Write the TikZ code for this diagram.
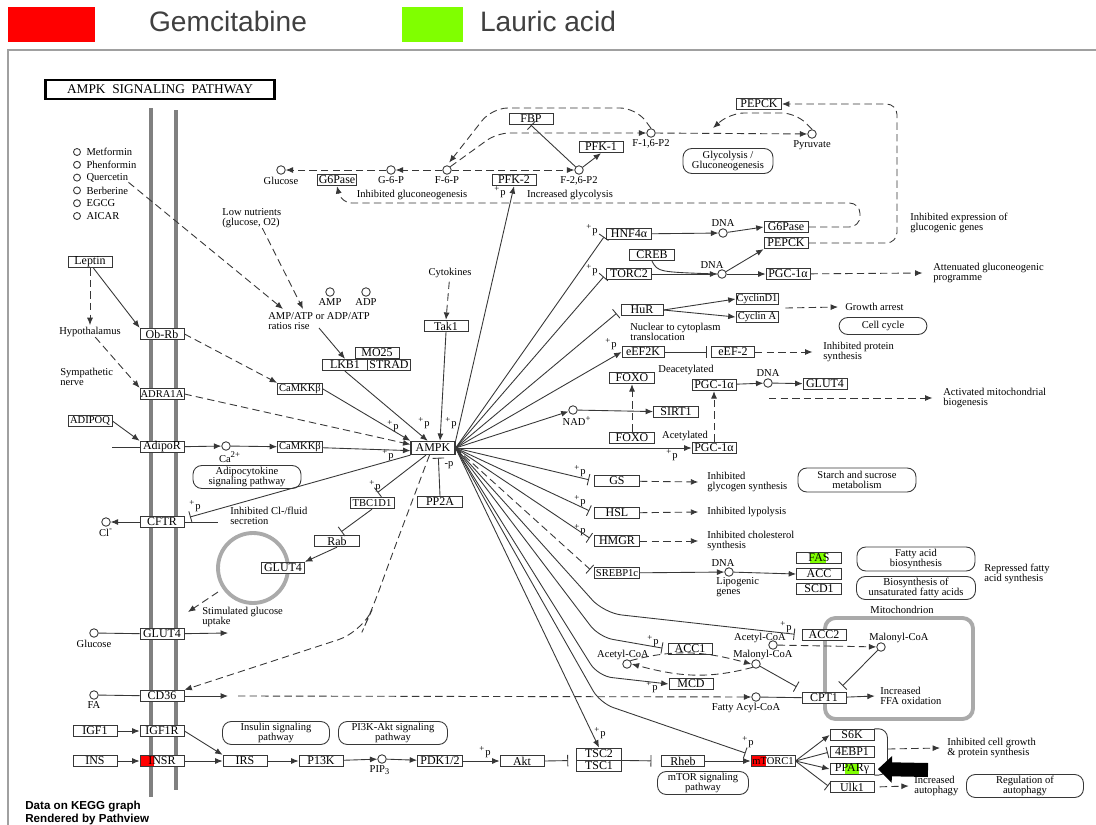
\documentclass[tikz,border=0pt]{standalone}
\usepackage{fontspec}
\setmainfont{Liberation Serif}
\newfontfamily\keggfont{Liberation Serif}
\newfontfamily\hdrfont{Liberation Sans}
\usetikzlibrary{arrows.meta, positioning, calc}
\definecolor{gemred}{RGB}{255,0,0}
\definecolor{laugreen}{RGB}{128,255,0}
\definecolor{hdrgray}{RGB}{64,64,64}
\definecolor{framegray}{RGB}{160,160,160}
\definecolor{memgray}{RGB}{128,128,128}
\definecolor{vesgray}{RGB}{170,170,170}
\definecolor{keggline}{RGB}{55,55,55}
\newcommand{\genefont}{\keggfont\fontsize{6.8}{7.4}\selectfont}
\newcommand{\genefontsm}{\keggfont\fontsize{6}{6.8}\selectfont}
\newcommand{\lblfont}{\keggfont\fontsize{6}{5.9}\selectfont}

\begin{document}
\begin{tikzpicture}[
    x=0.02cm, y=-0.02cm,
    gene/.style={rectangle, draw=keggline, fill=white, line width=0.5pt, minimum width=0.88cm, minimum height=0.23cm, inner sep=0pt, font=\genefont},
    genesm/.style={gene, font=\genefontsm},
    cpd/.style={circle, draw=keggline, fill=white, line width=0.5pt, minimum size=0.17cm, inner sep=0pt},
    txt/.style={font=\lblfont, inner sep=0pt, align=left},
    pway/.style={rectangle, rounded corners=5pt, draw=keggline, line width=0.5pt, font=\lblfont, align=center, inner sep=0pt, minimum height=0.46cm},
    plusp/.style={font=\lblfont, inner sep=0pt},
    line/.style={draw=keggline, line width=0.5pt},
    act/.style={line, -{Latex[length=4.2pt,width=3.4pt]}},
    inh/.style={line, -{Bar[width=6.5pt]}},
    dsh/.style={dash pattern=on 4.2pt off 2.4pt},
    hl/.style n args={3}{path picture={\fill[#1] ([xshift=#2]path picture bounding box.south west) rectangle ([xshift=#3]path picture bounding box.north west);}}
]
\fill[white] (0,0) rectangle (1096,825);
\useasboundingbox (0,0) rectangle (1096,825);

% legend
\node[fill=gemred, minimum width=1.74cm, minimum height=0.7cm, inner sep=0pt] (gemkey) at (51.5,24.5) {};
\node[font=\hdrfont\fontsize{16}{18}\selectfont, text=hdrgray, inner sep=0pt] (gemlab) at (228,21) {Gemcitabine};
\node[fill=laugreen, minimum width=1.22cm, minimum height=0.7cm, inner sep=0pt] (laukey) at (432.5,24.5) {};
\node[font=\hdrfont\fontsize{16}{18}\selectfont, text=hdrgray, inner sep=0pt] (laulab) at (548,21) {Lauric acid};
\draw[framegray, line width=1.2pt] (8,825) -- (8,50) -- (1096,50);

% title and membrane
\node[draw=black, line width=1.2pt, minimum width=4.58cm, minimum height=0.38cm, inner sep=0pt, font=\keggfont\fontsize{7.6}{8}\selectfont] (title) at (160,89.5) {AMPK\ \ SIGNALING\ \ PATHWAY};
\draw[memgray, line width=2.3pt] (151,108) -- (151,797);
\draw[memgray, line width=2.3pt] (176,110) -- (176,790);
\draw[vesgray, line width=2.2pt] (253,568) circle [radius=0.7cm];
\draw[vesgray, line width=2.2pt, rounded corners=6pt] (825,618) rectangle (973,719);

% drugs
\foreach \drug [count=\i] in {Metformin, Phenformin, Quercetin, Berberine, EGCG, AICAR} {
  \node[cpd, minimum size=0.14cm] (drug\i) at (77,139.2+12.8*\i) {};
  \node[txt, right=3pt of drug\i] (dtxt\i) {\drug};
}

% compounds
\node[cpd] (glucA) at (281,170) {};
\node[cpd] (g6p) at (391,170) {};
\node[cpd] (f6p) at (447,170) {};
\node[cpd] (f26p2) at (579,170) {};
\node[cpd] (f16p2) at (651,133) {};
\node[cpd] (pyr) at (812,134) {};
\node[cpd] (dnaA) at (723,233) {};
\node[cpd] (dnaB) at (722,274) {};
\node[cpd] (dnaC) at (768,383) {};
\node[cpd] (nad) at (573,410) {};
\node[cpd] (amp) at (330,292) {};
\node[cpd] (adp) at (366,292) {};
\node[cpd] (ca) at (226,446) {};
\node[cpd] (cl) at (106,522) {};
\node[cpd] (glucB) at (94,633) {};
\node[cpd] (fa) at (94,695) {};
\node[cpd] (pip) at (382,759) {};
\node[cpd] (dnaD) at (729,572) {};
\node[cpd] (acoaA) at (627,664) {};
\node[cpd] (mcoaA) at (756,664) {};
\node[cpd] (acoaB) at (773,645) {};
\node[cpd] (mcoaB) at (881,647) {};
\node[cpd] (facoa) at (756,697) {};

% genes
\node[gene, minimum width=0.78cm] (g6paseA) at (337,180) {G6Pase};
\node[gene] (fbp) at (531,119) {FBP};
\node[gene] (pfkone) at (601,147) {PFK-1};
\node[gene] (pfktwo) at (514,180) {PFK-2};
\node[gene, minimum width=0.9cm] (pepckA) at (759,104) {PEPCK};
\node[gene] (g6paseB) at (786,227) {G6Pase};
\node[gene] (pepckB) at (786,243) {PEPCK};
\node[gene, minimum width=0.9cm] (hnf) at (629,234) {HNF4α};
\node[gene, minimum width=0.9cm] (creb) at (652,255) {CREB};
\node[gene, minimum width=0.9cm] (torc) at (629,274) {TORC2};
\node[gene] (pgcA) at (788,274) {PGC-1α};
\node[gene, minimum width=0.84cm] (hur) at (642,310) {HuR};
\node[genesm, minimum width=0.84cm] (ccnd) at (757,299) {CyclinD1};
\node[genesm, minimum width=0.84cm] (ccna) at (757,317) {Cyclin A};
\node[gene, minimum width=0.84cm] (eefk) at (643,352) {eEF2K};
\node[gene, minimum width=0.86cm] (eeft) at (733,352) {eEF-2};
\node[gene, minimum width=0.9cm] (foxoA) at (632,378) {FOXO};
\node[gene] (pgcB) at (714,385) {PGC-1α};
\node[gene] (glutR) at (825,384) {GLUT4};
\node[gene, minimum width=0.9cm] (sirt) at (676,412) {SIRT1};
\node[gene, minimum width=0.9cm] (foxoB) at (632,438) {FOXO};
\node[gene] (pgcC) at (714,448) {PGC-1α};
\node[gene, minimum height=0.26cm, line width=0.7pt] (ampk) at (433,448) {AMPK};
\node[gene] (tak) at (446,326) {Tak1};
\node[gene] (mo) at (377,353) {MO25};
\node[gene, minimum width=0.9cm] (lkb) at (345,365) {LKB1};
\node[gene, minimum width=0.86cm] (strad) at (389,365) {STRAD};
\node[gene] (leptin) at (90,262) {Leptin};
\node[gene] (obrb) at (162,334) {Ob-Rb};
\node[genesm] (adra) at (162,394) {ADRA1A};
\node[genesm, minimum width=0.9cm] (camkA) at (300,389) {CaMKKβ};
\node[genesm] (adipoq) at (90,421) {ADIPOQ};
\node[gene] (adipor) at (162,447) {AdipoR};
\node[genesm, minimum width=0.9cm] (camkB) at (300,447) {CaMKKβ};
\node[gene] (cftr) at (162,522) {CFTR};
\node[genesm] (tbc) at (372,503) {TBC1D1};
\node[gene, minimum width=0.9cm] (rab) at (337,541) {Rab};
\node[gene, minimum width=0.86cm] (glutV) at (283,568) {GLUT4};
\node[gene] (glutM) at (162,634) {GLUT4};
\node[gene] (cd) at (162,696) {CD36};
\node[gene] (igf) at (95,731) {IGF1};
\node[gene] (igfr) at (162,731) {IGF1R};
\node[gene] (ins) at (95,761) {INS};
\node[gene, hl={gemred}{0cm}{0.28cm}] (insr) at (162,761) {INSR};
\node[gene] (irs) at (245,761) {IRS};
\node[gene] (pik) at (321,761) {P13K};
\node[gene, minimum width=0.9cm] (pdk) at (440,761) {PDK1/2};
\node[gene] (akt) at (522,761) {Akt};
\node[gene, minimum width=0.9cm, minimum height=0.24cm] (tsctwo) at (599,754) {TSC2};
\node[gene, minimum width=0.9cm, minimum height=0.22cm] (tscone) at (599,766) {TSC1};
\node[gene, minimum width=0.86cm] (rheb) at (683,761) {Rheb};
\node[genesm, hl={gemred}{0cm}{0.30cm}] (mtorc) at (773,761) {mTORC1};
\node[gene] (sixk) at (852,735) {S6K};
\node[gene] (ebp) at (852,752) {4EBP1};
\node[gene, hl={laugreen}{0.30cm}{0.58cm}] (pparg) at (852,769) {PPARγ};
\node[gene] (ulk) at (852,787) {Ulk1};
\node[gene, minimum width=0.9cm] (ppa) at (440,502) {PP2A};
\node[gene, minimum width=0.9cm] (gs) at (617,481) {GS};
\node[gene, minimum width=0.9cm] (hsl) at (617,513) {HSL};
\node[gene, minimum width=0.9cm] (hmgr) at (617,541) {HMGR};
\node[genesm, minimum width=0.9cm] (srebp) at (617,573) {SREBP1c};
\node[gene, minimum width=0.9cm, hl={laugreen}{0.26cm}{0.58cm}] (fas) at (819,558) {FAS};
\node[gene, minimum width=0.9cm] (acc) at (819,574) {ACC};
\node[gene, minimum width=0.9cm] (scd) at (819,589) {SCD1};
\node[gene] (acctwo) at (824,635) {ACC2};
\node[gene] (accone) at (690,649) {ACC1};
\node[gene] (mcd) at (691,684) {MCD};
\node[gene] (cpt) at (824,698) {CPT1};

% pathway maps
\node[pway, minimum width=1.8cm, minimum height=0.5cm] (pwglyco) at (728,161) {Glycolysis /\\Gluconeogenesis};
\node[pway, minimum width=1.76cm, minimum height=0.34cm] (pwcell) at (883,326) {Cell cycle};
\node[pway, minimum width=2.16cm] (pwadipo) at (247,477) {Adipocytokine\\signaling pathway};
\node[pway, minimum width=2.36cm, minimum height=0.48cm] (pwstarch) at (857,480) {Starch and sucrose\\metabolism};
\node[pway, minimum width=2.36cm, minimum height=0.48cm] (pwfab) at (916,559) {Fatty acid\\biosynthesis};
\node[pway, minimum width=2.38cm] (pwunsat) at (916,588) {Biosynthesis of\\unsaturated fatty acids};
\node[pway, minimum width=2.14cm] (pwins) at (276,733) {Insulin signaling\\pathway};
\node[pway, minimum width=2.18cm] (pwpik) at (393,733) {PI3K-Akt signaling\\pathway};
\node[pway, minimum width=1.82cm] (pwmtor) at (703,783) {mTOR signaling\\pathway};
\node[pway, minimum width=2.34cm] (pwauto) at (1025,786) {Regulation of\\autophagy};

% labels
\node[txt, below=1pt of glucA] (tglucA) {Glucose};
\node[txt, below=1pt of g6p] (tg6p) {G-6-P};
\node[txt, below=1pt of f6p] (tf6p) {F-6-P};
\node[txt, below=1pt of f26p2] (tf26) {F-2,6-P2};
\node[txt, below=1pt of f16p2] (tf16) {F-1,6-P2};
\node[txt, below=1pt of pyr] (tpyr) {Pyruvate};
\node[txt] (tinhgng) at (412,195) {Inhibited gluconeogenesis};
\node[txt] (tincgly) at (570,195) {Increased glycolysis};
\node[txt, anchor=west] (tinhexp) at (910,223) {Inhibited expression of\\glucogenic genes};
\node[txt, above=1pt of dnaA] (tdnaA) {DNA};
\node[txt] (tdnaB) at (712,265) {DNA};
\node[txt, anchor=west] (tattn) at (933,273) {Attenuated gluconeogenic\\programme};
\node[txt, anchor=west] (tgrow) at (845,307) {Growth arrest};
\node[txt, anchor=west] (tnuc) at (630,332) {Nuclear to cytoplasm\\translocation};
\node[txt, anchor=west] (tprot) at (823,352) {Inhibited protein\\synthesis};
\node[txt] (tdeac) at (686,370) {Deacetylated};
\node[txt, above=1pt of dnaC] (tdnaC) {DNA};
\node[txt, anchor=west] (tmitob) at (943,398) {Activated mitochondrial\\biogenesis};
\node[txt] (tnad) at (577,421) {NAD\textsuperscript{+}};
\node[txt] (tacet) at (685,436) {Acetylated};
\node[txt] (tcyto) at (450,273) {Cytokines};
\node[txt, below=1pt of amp] (tamp) {AMP};
\node[txt, below=1pt of adp] (tadp) {ADP};
\node[txt, anchor=west] (tratio) at (268,321) {AMP/ATP or ADP/ATP\\ratios rise};
\node[txt, anchor=west] (tlow) at (222,218) {Low nutrients\\(glucose, O2)};
\node[txt] (thypo) at (90,332) {Hypothalamus};
\node[txt, anchor=west] (tsymp) at (60,377) {Sympathetic\\nerve};
\node[txt] (tca) at (230,457) {Ca\textsuperscript{2+}};
\node[txt, below=1pt of cl] (tcl) {Cl\textsuperscript{-}};
\node[txt, anchor=west] (tclinh) at (230,516) {Inhibited Cl-/fluid\\secretion};
\node[txt, anchor=west] (tstim) at (202,617) {Stimulated glucose\\uptake};
\node[txt, below=1pt of glucB] (tglucB) {Glucose};
\node[txt, below=1pt of fa] (tfa) {FA};
\node[txt, anchor=west] (tglyinh) at (707,482) {Inhibited\\glycogen synthesis};
\node[txt, anchor=west] (tlipinh) at (707,512) {Inhibited lypolysis};
\node[txt, anchor=west] (tcholinh) at (707,541) {Inhibited cholesterol\\synthesis};
\node[txt] (tdnaD) at (723,563) {DNA};
\node[txt, anchor=west] (tlipo) at (716,587) {Lipogenic\\genes};
\node[txt, anchor=west] (trepr) at (984,574) {Repressed fatty\\acid synthesis};
\node[txt] (tmito) at (902,610) {Mitochondrion};
\node[txt] (tacoaB) at (760,638) {Acetyl-CoA};
\node[txt] (tmcoaB) at (899,638) {Malonyl-CoA};
\node[txt] (tacoaA) at (623,655) {Acetyl-CoA};
\node[txt] (tmcoaA) at (763,655) {Malonyl-CoA};
\node[txt] (tfacoa) at (746,708) {Fatty Acyl-CoA};
\node[txt, anchor=west] (tffa) at (880,696) {Increased\\FFA oxidation};
\node[txt, anchor=west] (tcellgr) at (947,748) {Inhibited cell growth\\\& protein synthesis};
\node[txt, anchor=west] (tautoinc) at (914,786) {Increased\\autophagy};
\node[txt] (tpip) at (380,770) {PIP\textsubscript{3}};
\node[txt, anchor=west, font=\hdrfont\bfseries\fontsize{6.6}{7.6}\selectfont] (tdata) at (25,813) {Data on KEGG graph\\Rendered by Pathview};
\node[plusp] (minusp) at (449,465) {-p};
\foreach \px/\py [count=\k] in {500/192, 592/230, 592/270, 611/344, 672/455, 580/471, 580/501, 580/530, 424/423, 451/423, 393/426, 388/455, 375/486, 195/506, 653/641, 652/687, 786/627, 600/733, 485/752, 748/742}
  \node[plusp] (plus\k) at (\px,\py) {\textsuperscript{+}p};

% free ends
\coordinate (pepckhit) at (713,128);
\coordinate (mbstart) at (769,398);
\coordinate (ratioin) at (283,309);
\coordinate (lowin) at (303,309);
\coordinate (ratioout) at (319,328);
\coordinate (vesout) at (218,592);
\coordinate (vesin) at (188,612);
\coordinate (cftrbar) at (190,517);
\coordinate (cftrout) at (218,522);
\coordinate (adipin) at (112,447);
\coordinate (glucout) at (228,633);
\coordinate (cdout) at (228,696);
\coordinate (fastart) at (238,696);
\coordinate (brk) at (888,749);
\coordinate (bigtail) at (928,770);
\coordinate (cycmid) at ($(ccnd.east)!0.5!(ccna.east)$);

% glycolysis / gluconeogenesis
\draw[act,dsh] (g6p) -- (glucA);
\draw[act,dsh] (f6p) -- (g6p);
\draw[act,dsh] (f6p) -- (f26p2);
\draw[act] (f26p2) -- (pfkone.south);
\draw[inh] (f26p2) -- (fbp.south);
\draw[act,dsh,rounded corners=7pt] (f6p.north east) -- (497,133) -- (f16p2);
\draw[act,dsh,rounded corners=9pt,shorten >=2pt] (f16p2.north) -- (636,108) -- (492,108) -- (f6p.north);
\draw[act,dsh] (f16p2) -- (pyr);
\draw[act,dsh,rounded corners=8pt] (pyr.north) -- (796,113) -- (730,113) -- (pepckhit);
\draw[act,dsh,rounded corners=6pt] (pepckB.east) -- (897,243) -- (897,104) -- (pepckA.east);
\draw[act,dsh,rounded corners=6pt] (g6paseB.east) -- (860,227) -- (860,203) -- (341,203) -- (g6paseA.south);
\draw[act] (ampk.north east) -- (pfktwo.south);

% transcription
\draw[inh,shorten >=2pt] (ampk.east) -- (hnf.west);
\draw[act] (hnf) -- (dnaA);
\draw[act] (dnaA) -- (g6paseB.west);
\draw[inh,shorten >=2pt] (ampk.east) -- (torc.west);
\draw[act] (torc) -- (dnaB);
\draw[line] (creb.south) .. controls (658,272) .. (dnaB.west);
\draw[act] (dnaB) -- (pgcA.west);
\draw[act] (dnaB) -- (pepckB.south west);
\draw[act,dsh] (pgcA) -- ([xshift=-6pt]tattn.west);
\draw[inh,shorten >=3pt] (ampk.east) -- (hur.west);
\draw[act] (hur.east) -- (ccnd.west);
\draw[act] (hur.east) -- (ccna.west);
\draw[act,dsh] ([xshift=4pt]cycmid) -- ([xshift=-4pt]tgrow.west);
\draw[act] (ampk.east) -- (eefk.west);
\draw[inh,shorten >=2.5pt] (eefk) -- (eeft);
\draw[act,dsh] (eeft) -- ([xshift=-6pt]tprot.west);
\draw[act,dsh] (foxoB) -- (foxoA);
\draw[act,dsh] (pgcC) -- (pgcB);
\draw[act] (pgcB) -- (dnaC);
\draw[act] (dnaC) -- (glutR);
\draw[act,dsh] (mbstart) -- ([xshift=-6pt]tmitob.west);
\draw[act] (ampk.east) -- (nad);
\draw[act] (nad) -- (sirt);
\draw[act] (ampk.east) -- (pgcC.west);
\draw[inh,shorten >=3pt] (ampk.east) -- (gs.west);
\draw[inh,shorten >=3pt] (ampk.east) -- (hsl.west);
\draw[inh,shorten >=3pt] (ampk.east) -- (hmgr.west);
\draw[act,dsh] (gs) -- ([xshift=-5pt]tglyinh.west);
\draw[act,dsh] (hsl) -- ([xshift=-5pt]tlipinh.west);
\draw[act,dsh] (hmgr) -- ([xshift=-5pt]tcholinh.west);
\draw[inh,dsh,shorten >=3pt] (ampk.east) -- (srebp.west);
\draw[act] (srebp) -- (dnaD);
\draw[act] (dnaD) -- (acc.west);

% lipid metabolism
\draw[inh,rounded corners=10pt,shorten >=4pt] (ampk.east) -- (604,613) -- (acctwo.west);
\draw[inh,rounded corners=8pt,shorten >=3pt] (ampk.east) -- (599,637) -- (accone.west);
\draw[act,rounded corners=8pt] (ampk.east) -- (598,676) -- (mcd.west);
\draw[inh,rounded corners=8pt,shorten >=3pt] (ampk.east) -- (600,703) -- (mtorc.north west);
\draw[act] (ampk.east) -- (tsctwo.north);
\draw[act,dsh] (acoaA.north east) to[out=15,in=165] (mcoaA.west);
\draw[act,dsh] (mcoaA.south west) to[out=-165,in=-15] (acoaA.east);
\draw[act,dsh] (acoaB) -- (mcoaB);
\draw[inh] (mcoaB) -- ($(cpt.north east)+(-4,-6)$);
\draw[inh] (mcoaA) -- ($(cpt.north west)+(-5,-5)$);
\draw[line] (facoa) -- (cpt);
\draw[act] (cpt) -- ([xshift=-3pt]tffa.west);

% upstream of AMPK
\draw[act,dsh,shorten >=1pt] (leptin.south) -- (thypo.north);
\draw[act] ([xshift=2pt]leptin.south) -- (obrb.north west);
\draw[act,dsh] ([xshift=3pt]thypo.south) -- (adra.north west);
\draw[act,dsh] (obrb.east) -- (camkA.north west);
\draw[act] (camkA.east) -- (ampk.north west);
\draw[act,dsh] (adra.east) -- ([yshift=2pt]ampk.west);
\draw[act] (adipoq.east) -- (adipor.north west);
\draw[line] (adipin) -- (adipor.west);
\draw[act] (adipor) -- (ca);
\draw[act] (ca) -- (camkB);
\draw[act] (camkB) -- ([yshift=-1.5pt]ampk.west);
\draw[act,dsh] (dtxt3.south east) -- (ratioin);
\draw[act,dsh] ([xshift=6pt]tlow.south) -- (lowin);
\draw[act] (ratioout) -- (lkb.north);
\draw[act] (lkb.south) -- ([xshift=-3pt]ampk.north);
\draw[act,dsh,shorten <=2pt] (tcyto) -- (tak.north);
\draw[act] (tak.south) -- ([xshift=4pt]ampk.north);
\draw[inh,shorten >=1.5pt] (ppa.north) -- ([xshift=3pt]ampk.south);

% downstream on the left
\draw[inh,shorten >=4pt] ([xshift=-4pt]ampk.south) -- (tbc.north);
\draw[inh,shorten >=3pt] (tbc.south) -- (rab.north);
\draw[act] (rab.south) -- (glutV.north east);
\draw[act,dsh] (vesout) -- (vesin);
\draw[inh] (ampk.south west) -- (cftrbar);
\draw[act] (cftr) -- (cl);
\draw[line] (cftr) -- (cftrout);
\draw[line] (glucB) -- (glutM);
\draw[act] (glutM) -- (glucout);
\draw[line] (fa) -- (cd);
\draw[act] (cd) -- (cdout);
\draw[act,dsh] (fastart) -- (facoa);
\draw[act,dsh,rounded corners=14pt] ([xshift=-2pt]ampk.south) -- (393,552) -- (372,610) -- (362,632) -- (cd.north east);

% insulin / mTOR
\draw[act] (igf) -- (igfr);
\draw[act] (ins) -- (insr);
\draw[act] (igfr.east) -- (irs.north west);
\draw[act] (insr) -- (irs);
\draw[act] (irs) -- (pik);
\draw[act] (pik) -- (pip);
\draw[act] (pip) -- (pdk);
\draw[act] (pdk) -- (akt);
\draw[inh,shorten >=4.5pt] (akt.east) -- (tsctwo.south west);
\draw[inh,shorten >=5.5pt] (tsctwo.south east) -- (rheb.west);
\draw[act] (rheb) -- (mtorc);
\draw[act] (mtorc.east) -- (sixk.west);
\draw[inh,shorten >=1pt] (mtorc.east) -- (ebp.west);
\draw[act] (mtorc.east) -- (pparg.west);
\draw[inh,shorten >=1pt] (mtorc.east) -- (ulk.west);
\draw[line, rounded corners=5pt] (sixk.north east) -- ++(13,0) -- ++(0,46) -- (pparg.south east);
\draw[act,dsh] (brk) -- ([xshift=-4pt]tcellgr.west);
\draw[act,dsh,shorten <=3pt] (ulk.east) -- ([xshift=-3pt]tautoinc.west);
\draw[line width=0.28cm, -{Triangle[length=0.28cm,width=0.52cm]}, shorten >=2pt] (bigtail) -- (pparg.east);

\end{tikzpicture}
\end{document}
